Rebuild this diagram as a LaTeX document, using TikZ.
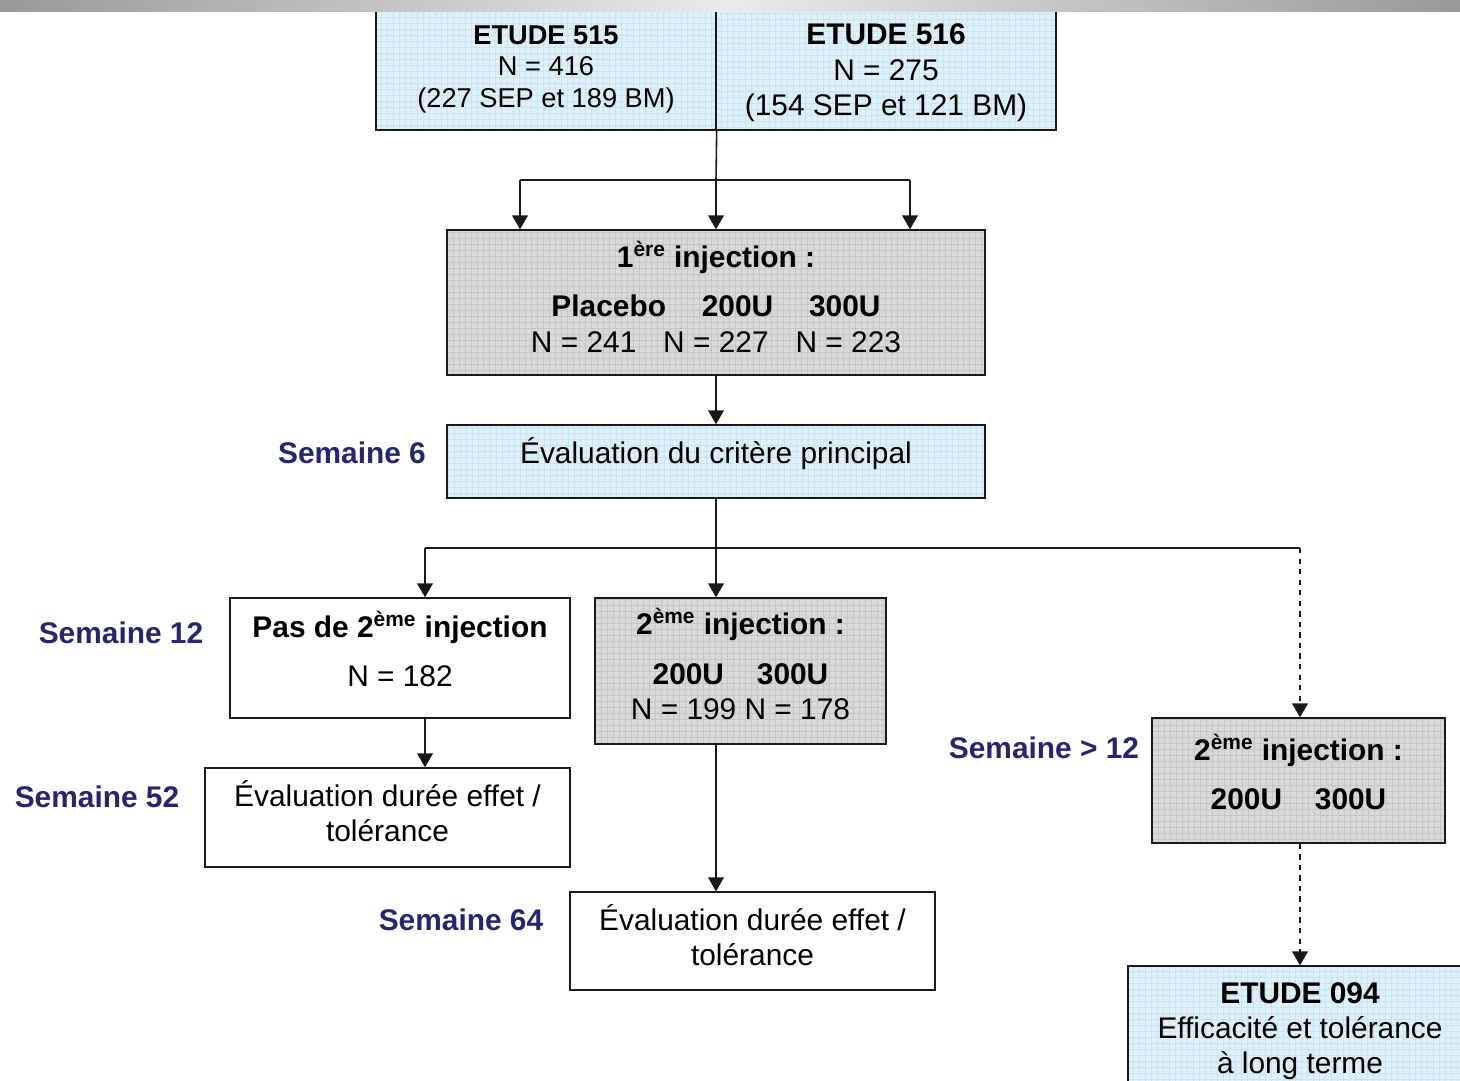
\documentclass[tikz,border=0pt]{standalone}
\usepackage{fontspec}
\setmainfont{Liberation Sans}
\usepackage{xcolor}
\usetikzlibrary{arrows.meta, shadows}

\definecolor{paleblue}{RGB}{222,241,250}
\definecolor{paleblueline}{RGB}{204,228,240}
\definecolor{boxgrey}{RGB}{217,217,217}
\definecolor{boxgreyline}{RGB}{198,198,198}
\definecolor{weeknavy}{RGB}{38,38,112}

\newcommand{\sups}[1]{\smash{\textsuperscript{#1}}}

\tikzset{
  box/.style={rectangle, draw=black!90, line width=0.8pt, inner sep=0pt, text depth=0pt,
    font=\fontsize{17}{20}\selectfont,
    drop shadow={shadow xshift=0.7pt, shadow yshift=-0.7pt, fill=black!60, opacity=1}},
  gridfill/.style={path picture={\draw[#1, line width=0.25pt, step=0.12cm]
    (path picture bounding box.south west) grid (path picture bounding box.north east);}},
  bluebox/.style={box, fill=paleblue, gridfill=paleblueline},
  greybox/.style={box, fill=boxgrey, gridfill=boxgreyline},
  whitebox/.style={box, fill=white},
  week/.style={font=\fontsize{17}{20}\selectfont\bfseries, text=weeknavy, inner sep=0pt},
  link/.style={draw=black!90, line width=0.9pt},
  arr/.style={link, -{Triangle[width=9pt, length=8pt]}},
}

\begin{document}
\begin{tikzpicture}[x=0.02cm, y=-0.02cm]
            \useasboundingbox (0,0) rectangle (1460,1081);
            \clip (0,0) rectangle (1460,1081);

            % Studies 515 / 516
            \node (e515) [bluebox, minimum width=6.8cm, minimum height=2.56cm, text height=47pt, font=\fontsize{15.5}{18}\selectfont] at (546,66)
              {\begin{tabular}[b]{@{}c@{}}\textbf{ETUDE 515}\\N = 416\\(227 SEP et 189 BM)\end{tabular}};
            \node (e516) [bluebox, minimum width=6.8cm, minimum height=2.56cm, text height=56pt] at (886,66)
              {\begin{tabular}[b]{@{}c@{}}\textbf{ETUDE 516}\\N = 275\\(154 SEP et 121 BM)\end{tabular}};

            % First injection and primary criterion
            \node (inj1) [greybox, minimum width=10.76cm, minimum height=2.9cm, text height=56.5pt] at (716,302.5)
              {\begin{tabular}[b]{@{}c@{}}\textbf{1\sups{ère} injection :}\\[8pt]\textbf{Placebo\hspace{1.2em}200U\hspace{1.2em}300U}\\N = 241\hspace{0.9em}N = 227\hspace{0.9em}N = 223\end{tabular}};
            \node (crit) [bluebox, minimum width=10.76cm, minimum height=1.46cm, text height=2.5pt] at (716,461.5)
              {\begin{tabular}[b]{@{}c@{}}Évaluation du critère principal\end{tabular}};

            % Second injection branches
            \node (nosecond) [whitebox, minimum width=6.8cm, minimum height=2.4cm, text height=32.5pt] at (400,658)
              {\begin{tabular}[b]{@{}c@{}}\textbf{Pas de 2\sups{ème} injection}\\[8pt]N = 182\end{tabular}};
            \node (inj2) [greybox, minimum width=5.82cm, minimum height=2.92cm, text height=55pt] at (740.5,671)
              {\begin{tabular}[b]{@{}c@{}}\textbf{2\sups{ème} injection :}\\[8pt]\textbf{200U\hspace{1.1em}300U}\\N = 199 N = 178\end{tabular}};
            \node (late) [greybox, minimum width=5.86cm, minimum height=2.5cm, text height=33pt] at (1298.5,780.5)
              {\begin{tabular}[b]{@{}c@{}}\textbf{2\sups{ème} injection :}\\[8pt]\textbf{200U\hspace{1.1em}300U}\end{tabular}};

            % Follow-up
            \node (eval52) [whitebox, minimum width=7.3cm, minimum height=1.98cm, text height=27.5pt] at (387.5,817.5)
              {\begin{tabular}[b]{@{}c@{}}Évaluation durée effet /\\tolérance\end{tabular}};
            \node (eval64) [whitebox, minimum width=7.3cm, minimum height=1.96cm, text height=28pt] at (752.5,941)
              {\begin{tabular}[b]{@{}c@{}}Évaluation durée effet /\\tolérance\end{tabular}};
            \node (e094) [bluebox, minimum width=6.88cm, minimum height=2.52cm, text height=50.5pt] at (1300,1029)
              {\begin{tabular}[b]{@{}c@{}}\textbf{ETUDE 094}\\Efficacité et tolérance\\à long terme\end{tabular}};

            % Weeks
            \node (s6) [week] at (352,453) {Semaine 6};
            \node (s12) [week] at (121,633) {Semaine 12};
            \node (s52) [week] at (97,797) {Semaine 52};
            \node (s64) [week] at (461,920) {Semaine 64};
            \node (sgt12) [week] at (1044,748) {Semaine > 12};

            % Connectors
            \coordinate (split1) at (716,180);
            \coordinate (left1) at (520,180);
            \coordinate (right1) at (910,180);
            \draw[link] (e515.south east) -- (split1);
            \draw[link] (left1) -- (right1);
            \draw[arr] (left1) -- (left1 |- inj1.north);
            \draw[arr] (split1) -- (inj1);
            \draw[arr] (right1) -- (right1 |- inj1.north);
            \draw[arr] (inj1) -- (crit);

            \coordinate (split2) at (716,548);
            \coordinate (left2) at (425,548);
            \coordinate (right2) at (1300,548);
            \draw[link] (crit) -- (split2);
            \draw[link] (left2) -- (right2);
            \draw[arr] (left2) -- (left2 |- nosecond.north);
            \draw[arr] (split2) -- (split2 |- inj2.north);
            \draw[arr, dashed] (right2) -- (right2 |- late.north);
            \draw[arr] (left2 |- nosecond.south) -- (left2 |- eval52.north);
            \draw[arr] (split2 |- inj2.south) -- (split2 |- eval64.north);
            \draw[arr, dashed] (right2 |- late.south) -- (right2 |- e094.north);

            % Slide header bar
            \shade[left color=black!40, right color=black!40, middle color=black!8] (0,0) rectangle (1460,12);
\end{tikzpicture}
\end{document}
